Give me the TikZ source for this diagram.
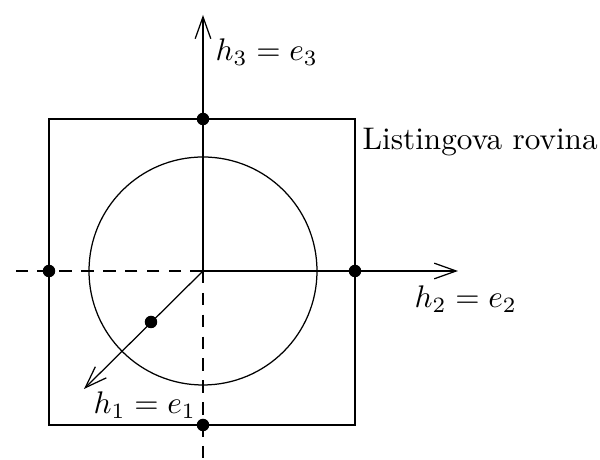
\documentclass[tikz,border=0pt]{standalone}
\usetikzlibrary{arrows.meta}
\begin{document}
\begin{tikzpicture}[x=0.32pt,y=-0.32pt,
  axis/.style={line width=0.4pt},
  axisarrow/.style={line width=0.4pt,-{Straight Barb[length=7pt,width=5pt]}},
  dashaxis/.style={line width=0.4pt,dash pattern=on 4pt off 3pt},
  frame/.style={line width=0.9pt},
  dot/.style={circle,fill=black,inner sep=0pt,minimum size=4pt},
  lbl/.style={inner sep=0pt,anchor=base west}]
\useasboundingbox (0,0) rectangle (600,460);
\coordinate (O) at (203,271);
\coordinate (Ztop) at (203,15);
\coordinate (Zbot) at (203,460);
\coordinate (Yl) at (10,271);
\coordinate (Yr) at (458,271);
\coordinate (Xtip) at (84,389);
% frame
\draw[frame] (49,119) rectangle (355,425);
% circle
\draw[line width=0.4pt] (O) circle (114);
% axes
\draw[axisarrow] (O) -- (Ztop);
\draw[dashaxis] (O) -- (Zbot);
\draw[dashaxis] (O) -- (Yl);
\draw[axisarrow] (O) -- (Yr);
\draw[axisarrow] (O) -- (Xtip);
% dots
\node[dot] (dT) at (203,119) {};
\node[dot] (dB) at (203,425) {};
\node[dot] (dL) at (49,271) {};
\node[dot] (dR) at (355,271) {};
\node[dot] (dX) at (151,322) {};
% labels
\node[lbl] (l3) at (215,61) {$h_3=e_3$};
\node[lbl] (l2) at (414,308) {$h_2=e_2$};
\node[lbl] (l1) at (93,414) {$h_1=e_1$};
\node[lbl] (lr) at (362,150) {Listingova rovina};
\end{tikzpicture}
\end{document}
